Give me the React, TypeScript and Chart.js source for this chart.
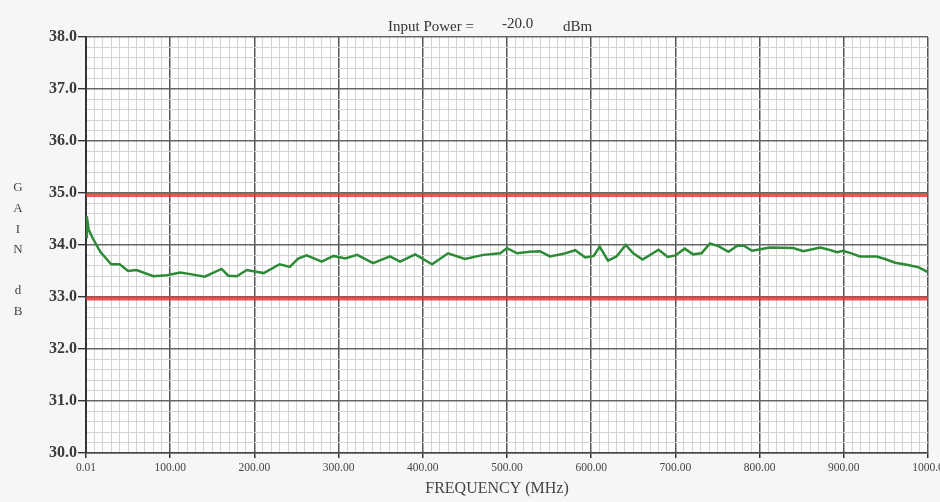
import React, { useEffect, useRef } from "react";
import { Chart, registerables } from "chart.js";

Chart.register(...registerables);

const freqMHz = [0.01, 1, 3, 8, 17, 30, 40, 50, 60, 80, 96, 112, 124, 141, 161, 169, 179, 191, 211, 230, 242, 252, 262, 280, 294, 308, 322, 341, 361, 373, 391, 411, 430, 450, 472, 492, 500, 512, 527, 539, 551, 567, 581, 593, 603, 610, 620, 630, 641, 650, 661, 680, 691, 700, 711, 721, 731, 741, 751, 763, 773, 781, 791, 801, 812, 840, 852, 872, 880, 892, 899, 909, 919, 939, 949, 961, 975, 989, 1000];
const gainDb = [34.15, 34.55, 34.3, 34.13, 33.87, 33.63, 33.63, 33.5, 33.52, 33.4, 33.42, 33.47, 33.44, 33.39, 33.54, 33.41, 33.4, 33.52, 33.46, 33.63, 33.58, 33.74, 33.8, 33.68, 33.79, 33.74, 33.81, 33.65, 33.78, 33.68, 33.82, 33.63, 33.84, 33.73, 33.81, 33.84, 33.94, 33.84, 33.87, 33.88, 33.78, 33.83, 33.9, 33.76, 33.79, 33.97, 33.7, 33.78, 34.0, 33.84, 33.72, 33.91, 33.77, 33.8, 33.93, 33.82, 33.84, 34.03, 33.98, 33.87, 33.98, 33.99, 33.89, 33.92, 33.95, 33.94, 33.88, 33.95, 33.92, 33.86, 33.89, 33.84, 33.78, 33.78, 33.73, 33.66, 33.62, 33.57, 33.48];
const limitFreq = [0, 1000];
const upperLimit = [34.96, 34.96];
const lowerLimit = [32.97, 32.97];
const xTickValues = [0, 100, 200, 300, 400, 500, 600, 700, 800, 900, 1000];
const xTickLabels = ["0.01", "100.00", "200.00", "300.00", "400.00", "500.00", "600.00", "700.00", "800.00", "900.00", "1000.0"];
const yTickValues = [30, 31, 32, 33, 34, 35, 36, 37, 38];
const yTickLabels = ["30.0", "31.0", "32.0", "33.0", "34.0", "35.0", "36.0", "37.0", "38.0"];
const titleParts = ["Input Power =", "-20.0", "dBm"];
const yTitleLetters = ["G", "A", "I", "N", "", "d", "B"];
const xTitle = "FREQUENCY (MHz)";

const SERIF = "'Liberation Serif', 'DejaVu Serif', serif";

const decorPlugin = {
  id: "decor",
  beforeDraw(chart: any) {
    const { ctx, chartArea: a } = chart;
    ctx.save();
    ctx.fillStyle = "#f6f6f6";
    ctx.fillRect(0, 0, chart.width, chart.height);
    ctx.fillStyle = "#ffffff";
    ctx.fillRect(a.left, a.top, a.right - a.left, a.bottom - a.top);
    ctx.restore();
  },
  afterDraw(chart: any) {
    const { ctx } = chart;
    ctx.save();
    ctx.fillStyle = "#333";
    ctx.textBaseline = "middle";
    ctx.textAlign = "left";
    ctx.font = `15px ${SERIF}`;
    ctx.fillText(titleParts[0], 388, 27);
    ctx.fillText(titleParts[1], 502, 24);
    ctx.fillText(titleParts[2], 563, 27);
    ctx.textAlign = "center";
    ctx.font = `13px ${SERIF}`;
    ctx.fillStyle = "#444";
    yTitleLetters.forEach((l, i) => {
      if (l) ctx.fillText(l, 18, 188 + i * 20.6);
    });
    ctx.font = `16px ${SERIF}`;
    ctx.fillText(xTitle, 497, 489);
    ctx.restore();
  },
};

const isMajorY = (c: any) => {
  const v = c.tick ? c.tick.value : 0;
  return Math.abs(v - Math.round(v)) < 1e-6;
};
const isMajorX = (c: any) => !!c.tick && c.tick.value % 100 === 0;

export default function App() {
  const ref = useRef<HTMLCanvasElement>(null);
  useEffect(() => {
    document.body.style.margin = "0";
    document.body.style.background = "#f6f6f6";
    const chart = new Chart(ref.current!, {
      type: "line",
      data: {
        datasets: [
          {
            data: limitFreq.map((x, i) => ({ x, y: upperLimit[i] })),
            borderColor: "rgba(225,50,50,0.82)",
            borderWidth: 4,
            pointRadius: 0,
          },
          {
            data: limitFreq.map((x, i) => ({ x, y: lowerLimit[i] })),
            borderColor: "rgba(225,50,50,0.82)",
            borderWidth: 4,
            pointRadius: 0,
          },
          {
            data: freqMHz.map((x, i) => ({ x, y: gainDb[i] })),
            borderColor: "#2d8a36",
            borderWidth: 2.5,
            pointRadius: 0,
            tension: 0,
          },
        ],
      },
      options: {
        animation: false,
        responsive: false,
        events: [],
        layout: { padding: { left: 0, top: 37, right: 12, bottom: 0 } },
        plugins: { legend: { display: false }, tooltip: { enabled: false }, title: { display: false } },
        scales: {
          x: {
            type: "linear",
            min: 0,
            max: 1000,
            afterBuildTicks: (s: any) => {
              const t = [];
              for (let v = 0; v <= 1000; v += 10) t.push({ value: v });
              s.ticks = t;
            },
            afterFit: (s: any) => {
              s.height = 49;
              s.paddingLeft = 0;
              s.paddingRight = 0;
            },
            ticks: {
              autoSkip: false,
              maxRotation: 0,
              padding: 3,
              color: "#444",
              font: { family: SERIF, size: 11.5 },
              callback: (v: any) => {
                const i = xTickValues.indexOf(Number(v));
                return i >= 0 ? xTickLabels[i] : "";
              },
            },
            grid: {
              color: (c: any) => (isMajorX(c) ? "#555" : "#d4d4d4"),
              lineWidth: (c: any) => (isMajorX(c) ? 1.5 : 1),
              tickLength: 5,
              tickColor: (c: any) => (isMajorX(c) ? "#333" : "rgba(0,0,0,0)"),
            },
            border: { display: true, color: "#444", width: 1.5 },
          },
          y: {
            type: "linear",
            min: 30,
            max: 38,
            afterBuildTicks: (s: any) => {
              const t = [];
              for (let k = 0; k <= 40; k++) t.push({ value: 30 + k * 0.2 });
              s.ticks = t;
            },
            afterFit: (s: any) => {
              s.width = 86;
              s.paddingTop = 0;
              s.paddingBottom = 0;
            },
            ticks: {
              autoSkip: false,
              padding: 1,
              color: "#3a3a3a",
              font: { family: SERIF, size: 16, weight: "bold" },
              callback: (v: any) => {
                const i = yTickValues.findIndex((y) => Math.abs(y - Number(v)) < 1e-6);
                return i >= 0 ? yTickLabels[i] : "";
              },
            },
            grid: {
              color: (c: any) => (isMajorY(c) ? "#666" : "#d4d4d4"),
              lineWidth: (c: any) => (isMajorY(c) ? 1.4 : 1),
              tickLength: 8,
              tickColor: (c: any) => (isMajorY(c) ? "#333" : "rgba(0,0,0,0)"),
            },
            border: { display: true, color: "#333", width: 2 },
          },
        },
      },
      plugins: [decorPlugin],
    } as any);
    return () => chart.destroy();
  }, []);
  return (
    <div style={{ width: 940, height: 502 }}>
      <canvas ref={ref} width={940} height={502} style={{ display: "block" }} />
    </div>
  );
}
